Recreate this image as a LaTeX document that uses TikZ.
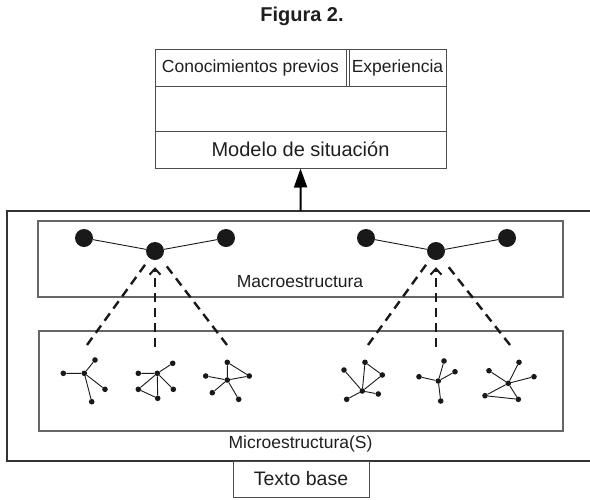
\documentclass[tikz,border=0pt]{standalone}
\usepackage{fontspec}
\setmainfont{Liberation Sans}
\usetikzlibrary{arrows.meta}
\begin{document}
\begin{tikzpicture}[x=1pt,y=-1pt,
  txt/.style={inner sep=0pt,text=black!88},
  boxline/.style={draw=black!70,line width=1pt},
  grayline/.style={draw=black!60,line width=1.4pt},
  bigdot/.style={circle,fill=black!90,inner sep=0pt,minimum size=18pt},
  mdot/.style={circle,fill=black!90,inner sep=0pt,minimum size=5.6pt},
  edge/.style={draw=black!90,line width=0.9pt},
  dlink/.style={draw=black!90,line width=2.4pt,dash pattern=on 9pt off 6pt,shorten >=7pt},
  dlinkarrow/.style={dlink,-{Straight Barb[length=6pt,width=11pt,line width=2pt]}}
]
\useasboundingbox (0,0) rectangle (590,499);
\clip (0,0) rectangle (590,499);

% title
\node[txt,font=\bfseries\fontsize{20}{24}\selectfont] (title) at (302,16) {Figura 2.};

% top box (situation model)
\node[boxline,minimum width=291pt,minimum height=119pt,inner sep=0pt] (sit) at (300.5,108.5) {};
\draw[boxline] (155,86) -- (446,86);
\draw[boxline] (155,131) -- (446,131);
\draw[boxline] (346.5,49) -- (346.5,86);
\draw[boxline] (349.5,49) -- (349.5,86);
\node[txt,font=\fontsize{17.5}{20}\selectfont] (prev) at (250.5,67.5) {Conocimientos previos};
\node[txt,font=\fontsize{17.5}{20}\selectfont] (exp) at (397.5,67.5) {Experiencia};
\node[txt,font=\fontsize{20}{24}\selectfont] (modelo) at (300.5,149.5) {Modelo de situación};

% outer box (open on the right, cut by the page)
\draw[draw=black!80,line width=1.3pt] (620,211) -- (7,211) -- (7,461) -- (620,461);
\coordinate (outertop) at (300.7,211);
\draw[line width=2pt,-{Triangle[length=19pt,width=13pt]}] (outertop) -- (sit.south);

% macro and micro boxes
\node[grayline,minimum width=525pt,minimum height=76pt,inner sep=0pt] (macro) at (300.5,259) {};
\node[grayline,minimum width=524pt,minimum height=100pt,inner sep=0pt] (micro) at (301,381) {};
\node[txt,font=\fontsize{17.5}{20}\selectfont] (macrolab) at (300,282) {Macroestructura};
\node[txt,font=\fontsize{17.5}{20}\selectfont] (microlab) at (300.5,444) {Microestructura(S)};

% texto base
\node[draw=black!70,line width=1pt,minimum width=136pt,minimum height=36pt,inner sep=0pt,
      font=\fontsize{19.5}{22}\selectfont,text=black!88] (base) at (301,479) {Texto base};

% macro dots
\node[bigdot] (m1a) at (84,238) {};
\node[bigdot] (m1c) at (155,251) {};
\node[bigdot] (m1b) at (226,238) {};
\node[bigdot] (m2a) at (366,238) {};
\node[bigdot] (m2c) at (436,251) {};
\node[bigdot] (m2b) at (507,238) {};
\draw[edge] (m1a) -- (m1c) -- (m1b);
\draw[edge] (m2a) -- (m2c) -- (m2b);

% dashed links
\coordinate (d1a) at (87,345);
\coordinate (d1b) at (155,347);
\coordinate (d1c) at (227,345);
\coordinate (d2a) at (368,345);
\coordinate (d2b) at (436,347);
\coordinate (d2c) at (510,345);
\draw[dlink] (d1a) -- (m1c);
\draw[dlinkarrow] (d1b) -- (m1c);
\draw[dlink] (d1c) -- (m1c);
\draw[dlink] (d2a) -- (m2c);
\draw[dlinkarrow] (d2b) -- (m2c);
\draw[dlink] (d2c) -- (m2c);

% micro graph 1
\node[mdot] (g1c) at (84.3,373.3) {};
\node[mdot] (g1a) at (63.3,373.3) {};
\node[mdot] (g1b) at (95,360) {};
\node[mdot] (g1d) at (105,389.3) {};
\node[mdot] (g1e) at (91.7,401.7) {};
\draw[edge] (g1c) -- (g1a) (g1c) -- (g1b) (g1c) -- (g1d) (g1c) -- (g1e);

% micro graph 2
\node[mdot] (g2c) at (157.3,373.3) {};
\node[mdot] (g2a) at (138.3,373.3) {};
\node[mdot] (g2b) at (172.7,363.3) {};
\node[mdot] (g2d) at (173.3,389.3) {};
\node[mdot] (g2e) at (157.7,398.3) {};
\node[mdot] (g2f) at (138.3,389.3) {};
\draw[edge] (g2c) -- (g2a) (g2c) -- (g2b) (g2c) -- (g2d) (g2c) -- (g2e) (g2c) -- (g2f) (g2f) -- (g2e);

% micro graph 3
\node[mdot] (g3c) at (227.3,380) {};
\node[mdot] (g3t) at (227.3,362.3) {};
\node[mdot] (g3r) at (249.3,376) {};
\node[mdot] (g3l) at (205.7,376) {};
\node[mdot] (g3ll) at (212.3,392.7) {};
\node[mdot] (g3lr) at (238.7,399.3) {};
\draw[edge] (g3c) -- (g3t) (g3t) -- (g3r) (g3c) -- (g3r) (g3c) -- (g3l) (g3c) -- (g3ll) (g3c) -- (g3lr);

% micro graph 4
\node[mdot] (g4c) at (362.3,391) {};
\node[mdot] (g4a) at (344,370) {};
\node[mdot] (g4b) at (365,362.3) {};
\node[mdot] (g4d) at (382.3,375) {};
\node[mdot] (g4e) at (378.3,394) {};
\node[mdot] (g4f) at (346.7,399.3) {};
\draw[edge] (g4c) -- (g4a) (g4c) -- (g4b) (g4b) -- (g4d) (g4d) -- (g4c) (g4c) -- (g4e) (g4c) -- (g4f);

% micro graph 5
\node[mdot] (g5c) at (438.3,381) {};
\node[mdot] (g5a) at (419,376.7) {};
\node[mdot] (g5b) at (444,361) {};
\node[mdot] (g5d) at (455,371.7) {};
\node[mdot] (g5e) at (440.7,401) {};
\draw[edge] (g5c) -- (g5a) (g5c) -- (g5b) (g5c) -- (g5d) (g5c) -- (g5e);

% micro graph 6
\node[mdot] (g6c) at (508.3,383.3) {};
\node[mdot] (g6a) at (489,370.7) {};
\node[mdot] (g6b) at (519,362.3) {};
\node[mdot] (g6d) at (534,376.7) {};
\node[mdot] (g6e) at (485,395.7) {};
\node[mdot] (g6f) at (518.3,399.3) {};
\draw[edge] (g6c) -- (g6a) (g6c) -- (g6b) (g6c) -- (g6d) (g6c) -- (g6e) (g6e) -- (g6f) (g6f) -- (g6c);
\end{tikzpicture}
\end{document}
